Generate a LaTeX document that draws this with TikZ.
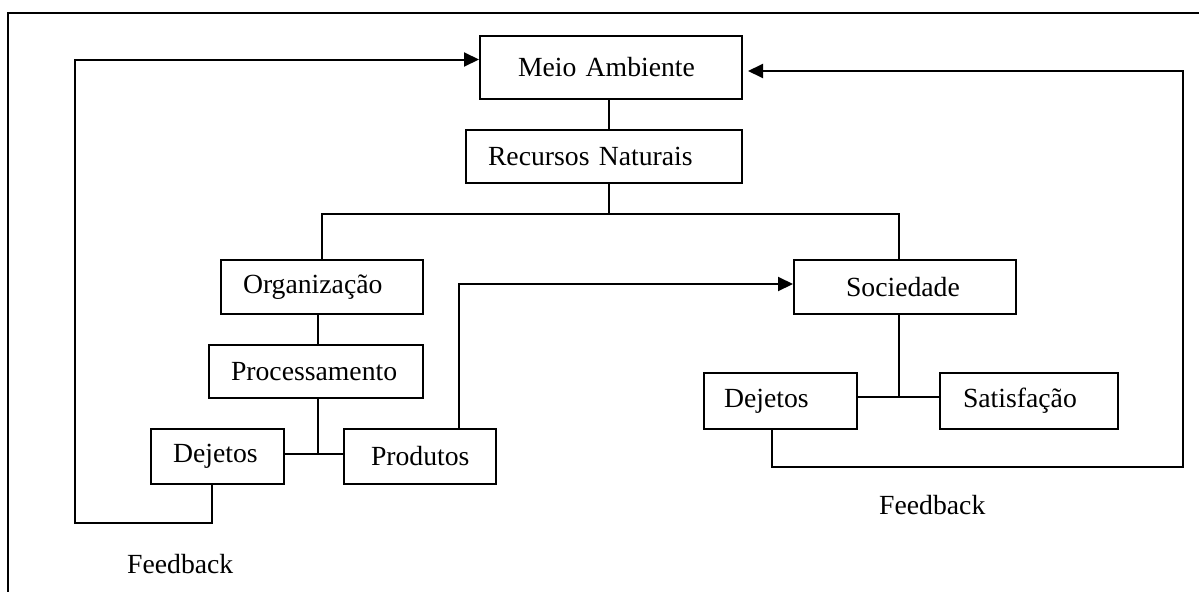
\documentclass[tikz,border=0pt]{standalone}
\usepackage{fontspec}
\setmainfont{Liberation Serif}
\usetikzlibrary{arrows.meta}
\begin{document}
\begin{tikzpicture}[x=1pt,y=-1pt,
  every node/.style={font=\fontsize{27.7}{32}\selectfont},
  box/.style={draw, line width=2pt, anchor=north west, align=left, inner ysep=0pt},
  conn/.style={line width=2pt},
  arr/.style={line width=2pt, -{Triangle[length=15pt,width=14pt]}}]
\useasboundingbox (0,0) rectangle (1199,592);
% outer frame (cut by the page on the right and bottom)
\draw[line width=2pt] (1199,13) -- (8,13) -- (8,592);
% boxes
\node[box, inner xsep=38pt, text width=186pt, minimum height=63pt] (meio) at (479,35) {Meio Ambiente};
\node[box, inner xsep=22pt, text width=232pt, minimum height=53pt] (rec) at (465,129) {Recursos Naturais};
\node[box, inner xsep=22pt, text width=158pt, minimum height=54pt] (org) at (220,259) {Organização};
\node[box, inner xsep=22pt, text width=170pt, minimum height=53pt] (proc) at (208,344) {Processamento};
\node[box, inner xsep=22pt, text width=89pt, minimum height=55pt] (dejL) at (150,428) {Dejetos};
\node[box, inner xsep=27pt, text width=98pt, minimum height=55pt] (prod) at (343,428) {Produtos};
\node[box, inner xsep=52pt, text width=118pt, minimum height=54pt] (soc) at (793,259) {Sociedade};
\node[box, inner xsep=20pt, text width=113pt, minimum height=56pt] (dejR) at (703,372) {Dejetos};
\node[box, inner xsep=23pt, text width=132pt, minimum height=56pt] (sat) at (939,372) {Satisfação};
% labels
\node[anchor=base west, inner sep=0pt] (fbtL) at (127,573) {Feedback};
\node[anchor=base west, inner sep=0pt] (fbtR) at (879,514) {Feedback};
% helper coordinates
\coordinate (hbar) at (0,214);
\coordinate (fbL) at (75,523);
\coordinate (fbR) at (1183,467);
% connectors
\draw[conn] ([xshift=-2pt]meio.south) -- ([xshift=-2pt]meio.south |- rec.north);
\draw[conn] ([xshift=5pt]rec.south) -- ([xshift=5pt]rec.south |- hbar);
\draw[conn] (org.north) -- (org.north |- hbar) -- ([xshift=-6pt]soc.north |- hbar) -- ([xshift=-6pt]soc.north);
\draw[conn] ([xshift=-4pt]org.south) -- ([xshift=-4pt]org.south |- proc.north);
\draw[conn] ([xshift=2pt]proc.south) -- ([xshift=2pt,yshift=3pt]proc.south |- dejL.east);
\draw[conn] ([yshift=3pt]dejL.east) -- ([yshift=3pt]prod.west);
\draw[arr] ([xshift=-38pt]prod.north east) |- ([yshift=3pt]soc.west);
\draw[conn] ([xshift=-6pt]soc.south) -- ([xshift=-6pt,yshift=4pt]soc.south |- sat.west);
\draw[conn] ([yshift=4pt]dejR.east) -- ([yshift=4pt]sat.west);
\draw[arr] ([xshift=-6pt]dejL.south) |- (fbL) |- ([yshift=8pt]meio.west);
\draw[arr, shorten >=5pt] ([xshift=-9pt]dejR.south) |- (fbR) |- ([yshift=-3.5pt]meio.east);
\end{tikzpicture}
\end{document}
